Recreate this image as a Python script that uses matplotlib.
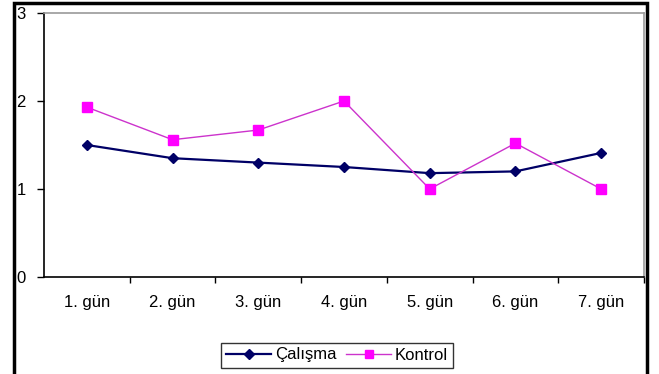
import matplotlib
matplotlib.use("Agg")
import matplotlib.pyplot as plt
from matplotlib.patches import Rectangle
from matplotlib.ticker import FixedLocator

# data
days = ["1. gün", "2. gün", "3. gün", "4. gün", "5. gün", "6. gün", "7. gün"]
calisma = [1.50, 1.35, 1.30, 1.25, 1.18, 1.20, 1.41]
kontrol = [1.93, 1.56, 1.67, 2.00, 1.00, 1.52, 1.00]

NAVY = "#000066"
MAG = "#FF00FF"
MAG_LINE = "#CC33CC"

plt.rcParams["font.family"] = ["Liberation Sans", "DejaVu Sans"]
FS = 12

W, H = 659, 374
fig = plt.figure(figsize=(W / 100, H / 100), dpi=100)
ax = fig.add_axes([44 / W, 1 - 277 / H, 600 / W, 264 / H])

x = list(range(len(days)))
ax.plot(x, calisma, color=NAVY, lw=1.6, marker="D", ms=5.5, mfc=NAVY, mec=NAVY, label="Çalışma")
ax.plot(x, kontrol, color=MAG_LINE, lw=1.0, marker="s", ms=7, mfc=MAG, mec=MAG, label="Kontrol")

ax.set_xlim(-0.5, len(days) - 0.5)
ax.set_ylim(0, 3)
ax.set_yticks([0, 1, 2, 3])
ax.set_xticks(x)
ax.set_xticklabels(days, fontsize=FS)
ax.xaxis.set_minor_locator(FixedLocator([i + 0.5 for i in range(len(days))]))
ax.tick_params(axis="x", which="major", length=0, pad=13)
ax.tick_params(axis="x", which="minor", length=4, direction="out", width=1)
ax.tick_params(axis="y", length=5, width=1, pad=8, labelsize=FS)

for s in ["left", "bottom"]:
    ax.spines[s].set_color("black")
    ax.spines[s].set_linewidth(1.2)
for s in ["top", "right"]:
    ax.spines[s].set_color("#999999")
    ax.spines[s].set_linewidth(1.2)

leg = fig.legend(loc="center", bbox_to_anchor=(337 / W, 1 - 355 / H), ncol=2,
                 fontsize=FS, frameon=True, fancybox=False, handlelength=2.7,
                 handletextpad=0.2, columnspacing=0.6, borderpad=0.3,
                 borderaxespad=0, markerscale=0.85)
leg.get_frame().set_edgecolor("black")
leg.get_frame().set_linewidth(1.0)

# outer border
fig.patches.append(Rectangle((14 / W, -0.05), 633 / W, 1.05 - 3 / H,
                             transform=fig.transFigure, fill=False,
                             edgecolor="black", lw=2.5))

fig.savefig("out.png", dpi=100)
